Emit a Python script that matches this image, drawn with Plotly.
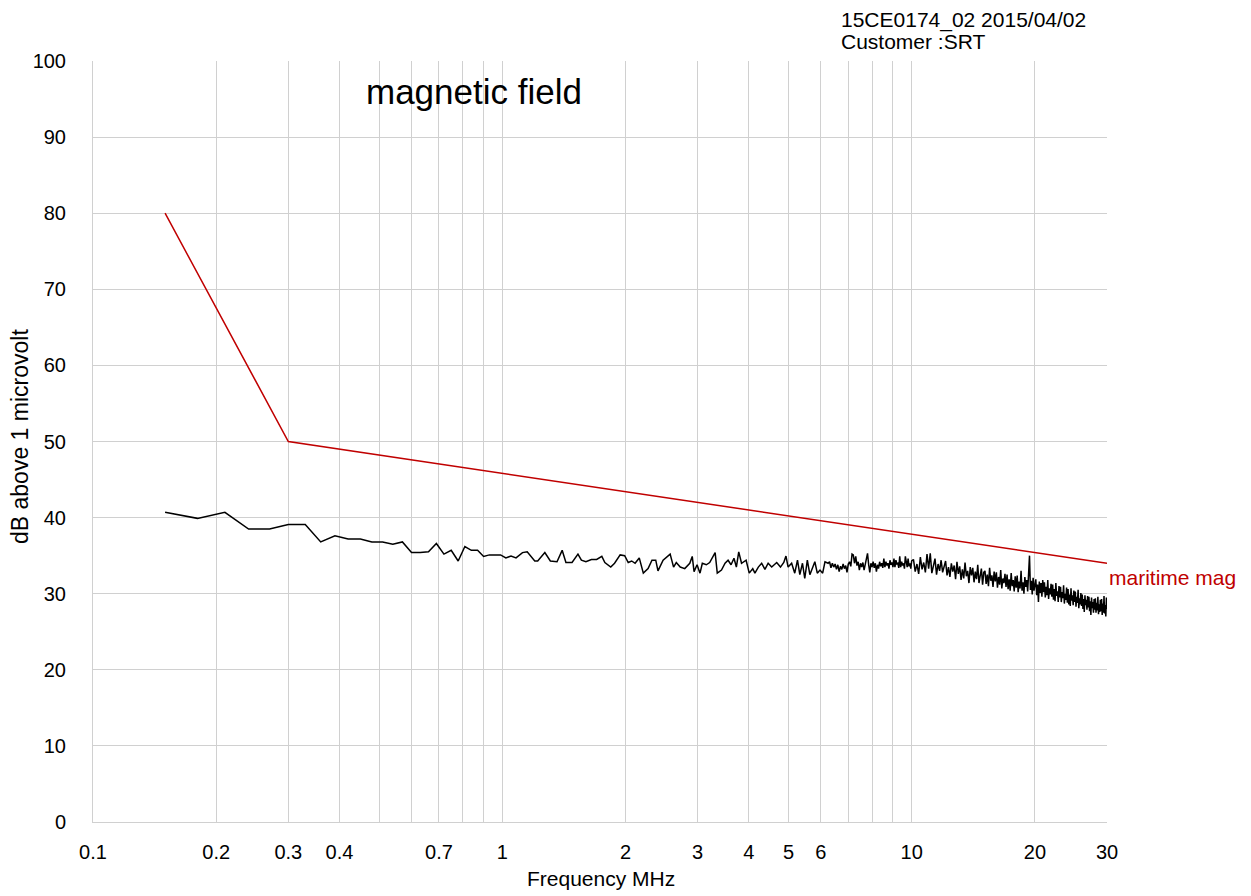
import plotly.graph_objects as go

# ---------------- data ----------------
# measured magnetic field (dB above 1 microvolt) vs frequency (MHz)
freq_a = [0.15, 0.18, 0.21, 0.24, 0.27, 0.30, 0.33, 0.36, 0.39, 0.42,
          0.45, 0.48, 0.51, 0.54, 0.57, 0.60, 0.63, 0.66, 0.69, 0.72,
          0.75, 0.78, 0.81, 0.84, 0.87, 0.90, 0.93, 0.96, 0.99, 1.02]
level_a = [40.7, 39.9, 40.7, 38.5, 38.5, 39.1, 39.1, 36.8, 37.6, 37.2,
           37.2, 36.8, 36.8, 36.5, 36.8, 35.4, 35.4, 35.5, 36.6, 35.2,
           35.7, 34.3, 36.2, 35.7, 35.7, 34.9, 35.1, 35.1, 35.1, 34.7]

freq_b = [1.05, 1.08, 1.12, 1.15, 1.20, 1.22, 1.27, 1.31, 1.36, 1.40,
          1.43, 1.48, 1.53, 1.56, 1.60, 1.65, 1.70, 1.75, 1.78, 1.84,
          1.88, 1.94, 1.99, 2.03, 2.07, 2.11, 2.16, 2.21, 2.27, 2.32,
          2.37, 2.40, 2.47]
level_b = [34.95, 34.7, 35.4, 35.5, 34.3, 34.3, 35.4, 34.3, 34.2, 35.7,
           34.1, 34.1, 35.2, 34.4, 34.2, 34.5, 34.5, 34.9, 34.1, 33.5,
           34.0, 35.1, 35.0, 34.1, 34.3, 34.0, 34.7, 32.7, 33.3, 34.4,
           34.4, 33.0, 34.4]

freq_c = [2.57, 2.62, 2.66, 2.72, 2.79, 2.87, 2.91, 2.94, 2.99, 3.04,
          3.08, 3.15, 3.21, 3.31, 3.35, 3.43, 3.50, 3.56, 3.62, 3.68,
          3.73, 3.78, 3.84, 3.94, 4.01, 4.09, 4.14, 4.22, 4.30, 4.38,
          4.46, 4.55, 4.68, 4.78, 4.87, 4.93, 4.99, 5.09, 5.18, 5.26,
          5.33, 5.41, 5.48, 5.56, 5.64, 5.72, 5.80, 5.88, 5.97, 6.06,
          6.14, 6.25]
level_c = [35.2, 33.5, 34.1, 33.5, 33.3, 34.0, 34.9, 32.9, 33.8, 32.7,
           34.0, 33.8, 34.1, 35.4, 32.7, 33.1, 34.0, 34.4, 33.8, 34.65,
           33.5, 35.5, 34.0, 34.4, 32.7, 33.3, 32.7, 33.5, 34.0, 33.2,
           34.0, 33.5, 34.1, 33.5, 34.1, 34.95, 33.5, 34.0, 32.7, 34.4,
           32.5, 34.0, 32.0, 34.4, 32.5, 33.5, 34.2, 32.7, 33.1, 32.7,
           34.2, 34.0]

freq_d = [6.30, 6.35, 6.40, 6.45, 6.50, 6.55, 6.60, 6.65, 6.70, 6.75,
          6.80, 6.85, 6.90, 6.95, 7.00, 7.05, 7.10, 7.15, 7.20, 7.25,
          7.30, 7.35, 7.40, 7.45, 7.50, 7.55, 7.60, 7.65, 7.70, 7.75,
          7.80, 7.85, 7.90, 7.95, 8.00, 8.05, 8.10, 8.15, 8.20, 8.25,
          8.30, 8.35, 8.40, 8.45, 8.50, 8.55, 8.60, 8.65, 8.70, 8.75,
          8.80, 8.85, 8.90, 8.95, 9.00, 9.05, 9.10, 9.15, 9.20, 9.25,
          9.30, 9.35, 9.40, 9.45, 9.50, 9.55, 9.60, 9.65, 9.70, 9.75,
          9.80, 9.85, 9.90, 9.95, 10.00]
level_d = [34.2, 33.4, 34.0, 33.5, 33.9, 33.2, 33.8, 32.9, 33.6, 33.2,
           33.9, 33.3, 33.7, 32.8, 33.9, 34.2, 33.6, 35.2, 35.1, 34.0,
           34.9, 33.7, 34.2, 33.1, 34.0, 33.5, 34.1, 33.1, 34.0, 34.6,
           35.3, 33.8, 32.8, 34.0, 33.5, 34.2, 33.4, 34.0, 32.9, 33.8,
           33.3, 34.2, 33.6, 34.0, 33.4, 34.6, 33.5, 34.2, 33.7, 34.0,
           33.3, 34.4, 33.8, 34.1, 33.5, 34.6, 33.5, 34.4, 33.9, 34.0,
           33.4, 34.9, 33.5, 34.2, 33.7, 34.0, 33.3, 34.9, 34.2, 33.5,
           34.6, 33.6, 34.0, 33.3, 34.3]

freq_e = [10.1, 10.2, 10.3, 10.4, 10.5, 10.6, 10.7, 10.8, 10.9, 11.0,
          11.1, 11.2, 11.3, 11.4, 11.5, 11.6, 11.7, 11.8, 11.9, 12.0,
          12.1, 12.2, 12.3, 12.4, 12.5, 12.6, 12.7, 12.8, 12.9, 13.0,
          13.1, 13.2, 13.3, 13.4, 13.5, 13.6, 13.7, 13.8, 13.9, 14.0,
          14.1, 14.2, 14.3, 14.4, 14.5, 14.6, 14.7, 14.8, 14.9, 15.0,
          15.1, 15.2, 15.3, 15.4, 15.5, 15.6, 15.7, 15.8, 15.9, 16.0,
          16.1, 16.2, 16.3, 16.4, 16.5, 16.6, 16.7, 16.8, 16.9, 17.0,
          17.1, 17.2, 17.3, 17.4, 17.5, 17.6, 17.7, 17.8, 17.9, 18.0,
          18.1, 18.2, 18.3, 18.4, 18.5, 18.6, 18.7, 18.8, 18.9, 19.0,
          19.1, 19.2, 19.3, 19.4, 19.5, 19.6, 19.7, 19.8, 19.9, 20.0,
          20.1, 20.2, 20.3, 20.4, 20.5, 20.6, 20.7, 20.8, 20.9, 21.0,
          21.1, 21.2, 21.3, 21.4, 21.5, 21.6, 21.7, 21.8, 21.9, 22.0,
          22.1, 22.2, 22.3, 22.4, 22.5, 22.6, 22.7, 22.8, 22.9, 23.0,
          23.1, 23.2, 23.3, 23.4, 23.5, 23.6, 23.7, 23.8, 23.9, 24.0,
          24.1, 24.2, 24.3, 24.4, 24.5, 24.6, 24.7, 24.8, 24.9, 25.0,
          25.1, 25.2, 25.3, 25.4, 25.5, 25.6, 25.7, 25.8, 25.9, 26.0,
          26.1, 26.2, 26.3, 26.4, 26.5, 26.6, 26.7, 26.8, 26.9, 27.0,
          27.1, 27.2, 27.3, 27.4, 27.5, 27.6, 27.7, 27.8, 27.9, 28.0,
          28.1, 28.2, 28.3, 28.4, 28.5, 28.6, 28.7, 28.8, 28.9, 29.0,
          29.1, 29.2, 29.3, 29.4, 29.5, 29.6, 29.7, 29.8, 29.9, 30.0]
level_e = [34.5, 32.9, 33.9, 32.6, 34.8, 33.2, 34.1, 32.8, 35.2, 33.3,
           35.3, 32.7, 33.8, 34.6, 32.5, 33.9, 33.0, 34.4, 32.8, 33.6,
           34.3, 32.4, 33.5, 32.2, 34.0, 32.9, 33.7, 31.9, 34.2, 32.6,
           33.6, 31.8, 33.2, 32.0, 34.1, 32.3, 33.0, 31.4, 33.5, 32.4,
           33.4, 31.5, 32.9, 31.9, 33.8, 31.4, 32.6, 33.3, 31.2, 32.8,
           33.0, 31.3, 32.5, 31.0, 33.4, 31.7, 32.4, 30.9, 32.9, 31.6,
           32.8, 30.8, 32.2, 31.2, 33.1, 30.7, 32.0, 31.4, 32.6, 30.9,
           32.5, 30.6, 31.9, 30.4, 32.7, 31.0, 31.8, 30.3, 32.3, 30.8,
           32.4, 30.2, 31.6, 30.7, 33.0, 30.4, 31.5, 30.0, 32.2, 30.9,
           31.8, 30.3, 32.6, 35.0, 30.5, 31.7, 29.9, 32.1, 30.4, 31.3,
           31.9, 29.8, 31.2, 28.9, 31.6, 30.1, 31.4, 29.6, 31.8, 30.2,
           31.5, 29.5, 30.9, 29.8, 31.8, 29.3, 30.7, 29.9, 31.3, 29.6,
           31.2, 29.2, 30.6, 29.0, 31.4, 29.7, 30.3, 28.9, 31.0, 29.5,
           30.9, 28.9, 30.2, 29.4, 31.1, 28.7, 30.0, 29.2, 30.8, 28.8,
           30.6, 28.6, 29.9, 28.4, 30.7, 29.1, 29.8, 28.5, 30.4, 28.9,
           30.3, 28.3, 29.6, 28.8, 30.5, 28.1, 29.4, 28.6, 30.1, 28.4,
           29.9, 28.0, 29.3, 27.6, 29.8, 28.5, 29.2, 27.9, 29.7, 28.2,
           29.6, 27.7, 29.0, 27.2, 29.5, 28.1, 28.9, 27.5, 29.3, 27.9,
           29.4, 27.5, 28.8, 27.8, 29.6, 27.3, 28.6, 27.6, 29.2, 27.7,
           29.3, 27.2, 28.7, 27.5, 29.7, 27.4, 28.5, 27.0, 29.5, 28.0]

# maritime magnetic field limit
limit_freq = [0.15, 0.3, 30]
limit_level = [80, 50, 34]

# axis ticks
x_grid_vals = [0.1, 0.2, 0.3, 0.4, 0.5, 0.6, 0.7, 0.8, 0.9,
               1, 2, 3, 4, 5, 6, 7, 8, 9, 10, 20, 30]
x_grid_text = ["0.1", "0.2", "0.3", "0.4", "", "", "0.7", "", "",
               "1", "2", "3", "4", "5", "6", "", "", "", "10", "20", "30"]
y_tick_vals = [0, 10, 20, 30, 40, 50, 60, 70, 80, 90, 100]

# ---------------- figure ----------------
FONT = "Liberation Sans, Arial, sans-serif"
GRID = "#D0D0D0"
RED = "#C00000"

# the page body adds an 8px offset; sizes below are in figure pixels
OFF = 8
W, H = 1235, 888
PL, PT = 93 - OFF, 61 - OFF            # plot left / top in figure px
PR, PB = 1107 - OFF, 822 - OFF         # plot right / bottom in figure px
PW, PH = PR - PL, PB - PT


def px_x(sx):   # screen x -> paper x
    return (sx - OFF - PL) / PW


def px_y(sy):   # screen y -> paper y
    return (PB - (sy - OFF)) / PH


freq = freq_a + freq_b + freq_c + freq_d + freq_e
level = level_a + level_b + level_c + level_d + level_e

fig = go.Figure()
fig.add_trace(go.Scatter(x=freq, y=level, mode="lines",
                         line=dict(color="#000000", width=1.5),
                         name="magnetic field", showlegend=False))
fig.add_trace(go.Scatter(x=limit_freq, y=limit_level, mode="lines",
                         line=dict(color=RED, width=1.5),
                         name="maritime magnetic field limit", showlegend=False))

# white box behind the title (covers gridlines)
fig.add_shape(type="rect", xref="paper", yref="paper",
              x0=px_x(352), x1=px_x(598), y0=px_y(110), y1=px_y(70),
              fillcolor="white", line=dict(width=0), layer="between")

fig.add_annotation(text="magnetic field", xref="paper", yref="paper",
                   x=px_x(474), y=px_y(91),
                   xanchor="center", yanchor="middle", showarrow=False,
                   font=dict(family=FONT, size=35, color="#000000"))

fig.add_annotation(text="15CE0174_02 2015/04/02", xref="paper", yref="paper",
                   x=px_x(839), y=px_y(20),
                   xanchor="left", yanchor="middle", showarrow=False,
                   font=dict(family=FONT, size=21, color="#000000"))
fig.add_annotation(text="Customer :SRT", xref="paper", yref="paper",
                   x=px_x(839), y=px_y(42),
                   xanchor="left", yanchor="middle", showarrow=False,
                   font=dict(family=FONT, size=21, color="#000000"))

fig.add_annotation(text="maritime mag", xref="paper", yref="y",
                   x=1, y=32.1, xshift=0,
                   xanchor="left", yanchor="middle", showarrow=False,
                   font=dict(family=FONT, size=21, color=RED))

fig.add_annotation(text="Frequency MHz", xref="paper", yref="paper",
                   x=px_x(601), y=px_y(879),
                   xanchor="center", yanchor="middle", showarrow=False,
                   font=dict(family=FONT, size=21, color="#000000"))
fig.add_annotation(text="dB above 1 microvolt", xref="paper", yref="paper",
                   x=px_x(20), y=px_y(437), textangle=-90,
                   xanchor="center", yanchor="middle", showarrow=False,
                   font=dict(family=FONT, size=23, color="#000000"))

fig.update_xaxes(type="log", range=[-1, 1.4771213],
                 tickmode="array", tickvals=x_grid_vals, ticktext=x_grid_text,
                 showgrid=True, gridcolor=GRID, gridwidth=1,
                 showline=True, linecolor=GRID, linewidth=1,
                 ticks="", ticklabelstandoff=12,
                 tickfont=dict(family=FONT, size=20, color="#000000"),
                 zeroline=False)
fig.update_yaxes(range=[0, 100], tickmode="array", tickvals=y_tick_vals,
                 showgrid=True, gridcolor=GRID, gridwidth=1,
                 showline=True, linecolor=GRID, linewidth=1,
                 ticks="", ticklabelstandoff=22,
                 tickfont=dict(family=FONT, size=20, color="#000000"),
                 zeroline=False)

fig.update_layout(width=W, height=H,
                  margin=dict(l=PL, r=W - PR, t=PT, b=H - PB, pad=0),
                  plot_bgcolor="white", paper_bgcolor="white",
                  font=dict(family=FONT, color="#000000"),
                  showlegend=False)

fig.write_html("out.html")
